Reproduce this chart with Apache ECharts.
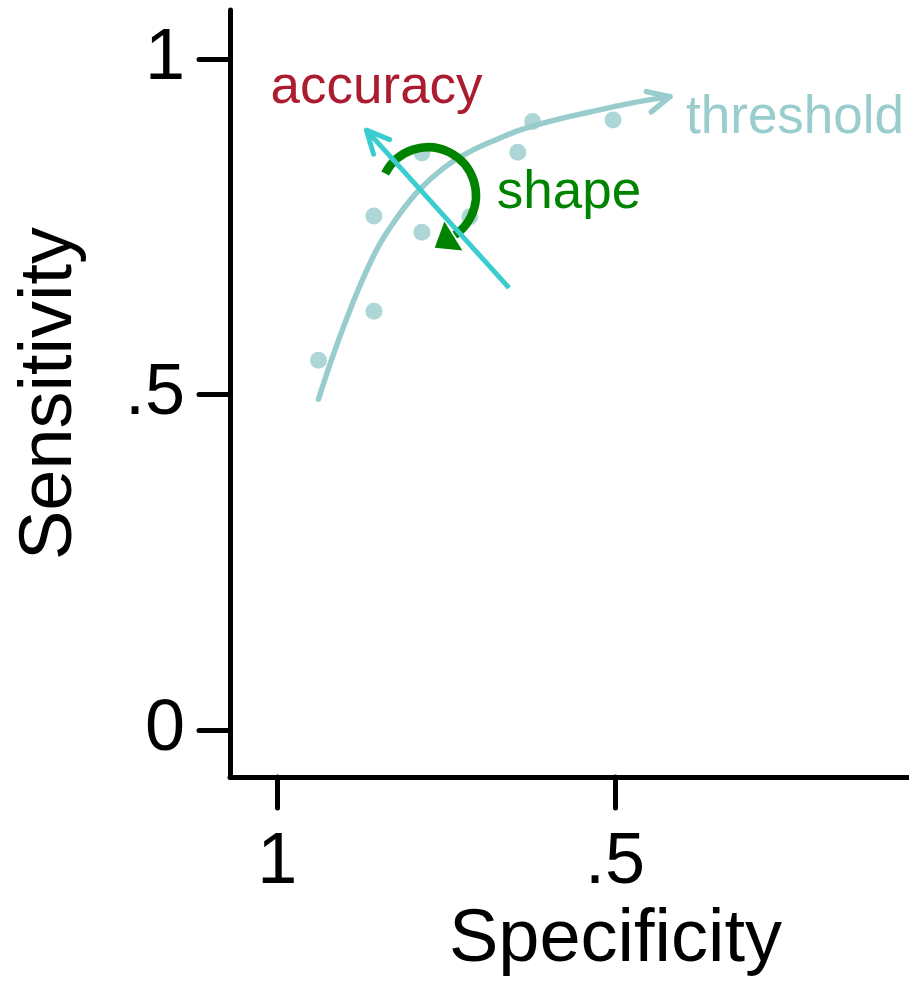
<!DOCTYPE html>
<html>
<head>
<meta charset="utf-8">
<script src="https://cdn.jsdelivr.net/npm/echarts@6/dist/echarts.min.js"></script>
<style>
  html, body { margin: 0; padding: 0; background: #fff; }
  #chart { width: 909px; height: 983px; }
</style>
</head>
<body>
<div id="chart"></div>
<script>
// Study estimates (specificity, sensitivity)
const studySpec = [0.939, 0.857, 0.857, 0.786, 0.786, 0.715, 0.644, 0.622, 0.503];
const studySens = [0.551, 0.624, 0.766, 0.742, 0.860, 0.765, 0.861, 0.907, 0.909];

// Summary ROC curve, traced along increasing threshold
const curveSpec = [0.939, 0.919, 0.897, 0.873, 0.848, 0.819, 0.789, 0.752, 0.715, 0.671, 0.641, 0.597, 0.542, 0.478, 0.419];
const curveSens = [0.493, 0.554, 0.614, 0.673, 0.725, 0.769, 0.806, 0.839, 0.862, 0.882, 0.894, 0.907, 0.920, 0.934, 0.944];

// Accuracy direction arrow: start and end (specificity, sensitivity)
const accuracyFrom = [0.657, 0.659];
const accuracyTo = [0.868, 0.894];

// Centre of the rotating "shape" arrow
const shapeCentre = [0.777, 0.797];

// Annotation labels
const labelText = ['accuracy', 'threshold', 'shape'];
const labelSpec = [1.010, 0.395, 0.675];
const labelSens = [0.956, 0.911, 0.800];

// Axis ticks
const xTicks = [1, 0.5];
const yTicks = [0, 0.5, 1];

const FONT = "'Liberation Sans', Arial, Helvetica, sans-serif";
const C_THRESH = '#99cccc';
const C_ACC = '#3acdd0';
const C_SHAPE = '#008400';
const C_TEXT_ACC = '#ac1c30';

function tickFmt(v) {
  if (Math.abs(v) < 1e-9) return '0';
  if (Math.abs(v - 1) < 1e-9) return '1';
  return String(v).replace(/^0\./, '.');
}

function chevron(tip, from, len, halfAngle) {
  const dx = from[0] - tip[0], dy = from[1] - tip[1];
  const n = Math.hypot(dx, dy);
  const ux = dx / n, uy = dy / n;
  const rot = (a) => [tip[0] + len * (ux * Math.cos(a) - uy * Math.sin(a)),
                      tip[1] + len * (ux * Math.sin(a) + uy * Math.cos(a))];
  return [rot(halfAngle), tip, rot(-halfAngle)];
}

const curveData = curveSpec.map((s, i) => [s, curveSens[i]]);
const studyData = studySpec.map((s, i) => [s, studySens[i]]);
const labelData = labelText.map((t, i) => [labelSpec[i], labelSens[i], t]);

const chart = echarts.init(document.getElementById('chart'), null, { renderer: 'canvas' });

const axisLine = { show: true, onZero: false, lineStyle: { color: '#000', width: 5, cap: 'round' } };
const tickStyle = { color: '#000', width: 5, cap: 'round' };

chart.setOption({
  backgroundColor: '#fff',
  animation: false,
  grid: { left: 230, right: 0, top: 10, bottom: 202, containLabel: false },
  xAxis: {
    type: 'value',
    inverse: true,
    min: 0.065,
    max: 1.07,
    name: 'Specificity',
    nameLocation: 'middle',
    nameGap: 124,
    nameTextStyle: { fontFamily: FONT, fontSize: 74, color: '#000', padding: [0, 0, 0, 92] },
    axisLine: axisLine,
    axisTick: { show: true, length: 31, inside: false, customValues: xTicks, lineStyle: tickStyle },
    axisLabel: { show: true, customValues: xTicks, formatter: tickFmt, margin: 50,
                 fontFamily: FONT, fontSize: 72, color: '#000' },
    splitLine: { show: false }
  },
  yAxis: {
    type: 'value',
    min: -0.0701,
    max: 1.0731,
    name: 'Sensitivity',
    nameLocation: 'middle',
    nameGap: 142,
    nameRotate: 90,
    nameTextStyle: { fontFamily: FONT, fontSize: 74, color: '#000' },
    axisLine: axisLine,
    axisTick: { show: true, length: 31, inside: false, customValues: yTicks, lineStyle: tickStyle },
    axisLabel: { show: true, customValues: yTicks, formatter: tickFmt, margin: 45,
                 fontFamily: FONT, fontSize: 72, color: '#000' },
    splitLine: { show: false }
  },
  series: [
    {
      name: 'studies',
      type: 'scatter',
      data: studyData,
      symbol: 'circle',
      symbolSize: 17,
      itemStyle: { color: C_THRESH },
      z: 2
    },
    {
      name: 'sroc',
      type: 'line',
      data: curveData,
      smooth: 0.4,
      showSymbol: false,
      lineStyle: { color: C_THRESH, width: 5.5, cap: 'round' },
      z: 3
    },
    {
      // open arrow head at the end of the summary curve
      name: 'sroc-head',
      type: 'custom',
      data: [0],
      clip: false,
      z: 3,
      renderItem: function (params, api) {
        const n = curveData.length;
        const tip = api.coord(curveData[n - 1]);
        const prev = api.coord(curveData[n - 2]);
        return {
          type: 'polyline',
          shape: { points: chevron(tip, [prev[0], prev[1] + 3], 24, 0.45) },
          style: { stroke: C_THRESH, lineWidth: 5.5, fill: null, lineCap: 'round', lineJoin: 'round' }
        };
      }
    },
    {
      // rotating "shape" arrow
      name: 'shape',
      type: 'custom',
      data: [shapeCentre],
      clip: false,
      z: 4,
      renderItem: function (params, api) {
        const c = api.coord([api.value(0), api.value(1)]);
        const r = 48;
        const deg = Math.PI / 180;
        const a0 = 207 * deg, a1 = 416 * deg, aHead = 58 * deg;
        const bx = c[0] + r * Math.cos(aHead), by = c[1] + r * Math.sin(aHead);
        const tx = -Math.sin(aHead), ty = Math.cos(aHead);
        const nx = Math.cos(aHead), ny = Math.sin(aHead);
        const L = 22, W = 17;
        return {
          type: 'group',
          children: [
            {
              type: 'arc',
              shape: { cx: c[0], cy: c[1], r: r, startAngle: a0, endAngle: a1, clockwise: true },
              style: { stroke: C_SHAPE, lineWidth: 8.5, fill: null }
            },
            {
              type: 'polygon',
              shape: { points: [[bx + L * tx, by + L * ty], [bx + W * nx, by + W * ny], [bx - W * nx, by - W * ny]] },
              style: { fill: C_SHAPE, stroke: null }
            }
          ]
        };
      }
    },
    {
      // accuracy arrow
      name: 'accuracy',
      type: 'custom',
      data: [[accuracyFrom[0], accuracyFrom[1], accuracyTo[0], accuracyTo[1]]],
      clip: false,
      z: 5,
      renderItem: function (params, api) {
        const a = api.coord([api.value(0), api.value(1)]);
        const b = api.coord([api.value(2), api.value(3)]);
        return {
          type: 'group',
          children: [
            {
              type: 'line',
              shape: { x1: a[0], y1: a[1], x2: b[0], y2: b[1] },
              style: { stroke: C_ACC, lineWidth: 5, lineCap: 'butt' }
            },
            {
              type: 'polyline',
              shape: { points: chevron(b, a, 25, 0.45) },
              style: { stroke: C_ACC, lineWidth: 5, fill: null, lineCap: 'round', lineJoin: 'round' }
            }
          ]
        };
      }
    },
    {
      name: 'labels',
      type: 'custom',
      data: labelData,
      clip: false,
      z: 6,
      renderItem: function (params, api) {
        const p = api.coord([api.value(0), api.value(1)]);
        const colors = [C_TEXT_ACC, C_THRESH, C_SHAPE];
        return {
          type: 'text',
          x: p[0],
          y: p[1],
          style: {
            text: labelText[params.dataIndex],
            fill: colors[params.dataIndex],
            font: '53px ' + FONT,
            align: 'left',
            verticalAlign: 'middle'
          }
        };
      }
    }
  ]
});
</script>
</body>
</html>
